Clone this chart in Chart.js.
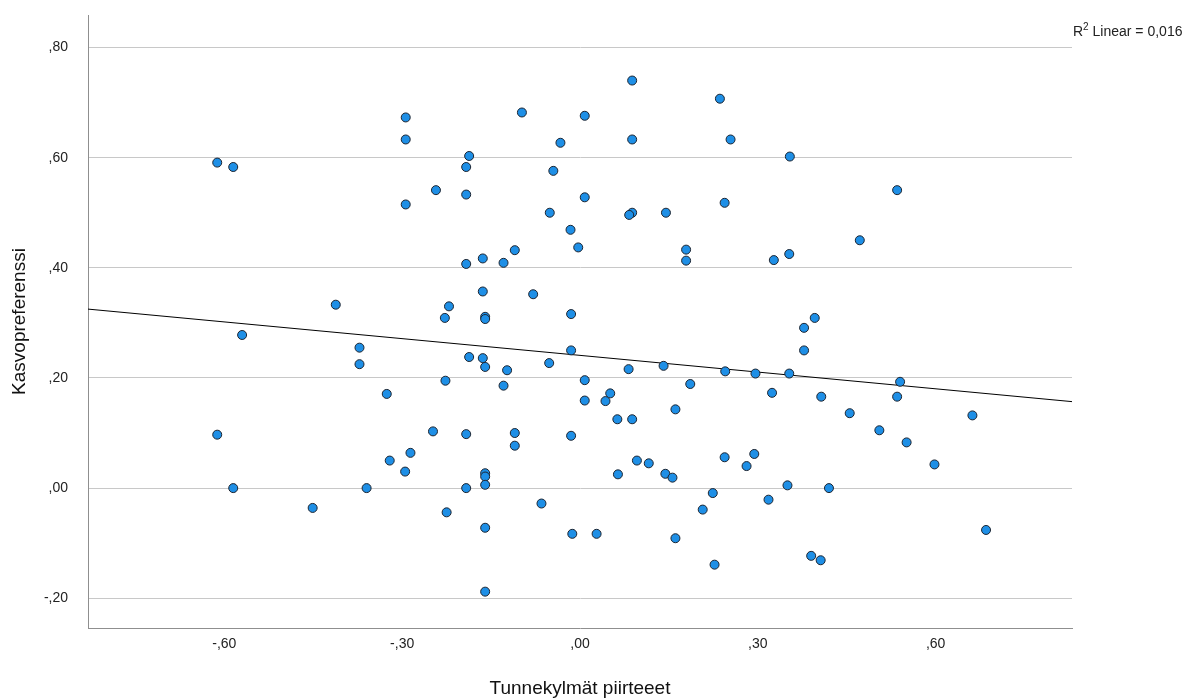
<!DOCTYPE html>
<html>
<head>
<meta charset="utf-8">
<script src="https://cdn.jsdelivr.net/npm/chart.js@4.4.1/dist/chart.umd.min.js"></script>
<style>
  html, body { margin: 0; padding: 0; background: #fff; }
  #wrap { width: 1196px; height: 700px; }
</style>
</head>
<body>
<div id="wrap"><canvas id="scatter" width="1196" height="700"></canvas></div>
<script>
// Tunnekylmät piirteeet (x) ja Kasvopreferenssi (y), luettu kuvasta
const tunnekylmat = [
  -0.294, -0.294, -0.612, -0.585, -0.294, 0.088, 0.236, -0.098, 0.008, -0.033,
  0.088, 0.254, -0.187, -0.192, -0.045, -0.243, -0.192, 0.008, -0.051, 0.088,
  0.083, 0.145, 0.244, 0.354, 0.535, -0.016, -0.003, -0.110, -0.164, -0.192,
  -0.129, 0.179, 0.179, -0.164, -0.079, -0.221, -0.228, -0.160, -0.160, -0.015,
  -0.015, -0.187, -0.164, -0.160, -0.123, -0.052, 0.082, 0.141, 0.245, -0.227,
  0.008, -0.129, 0.186, 0.051, 0.008, 0.043, 0.161, 0.063, 0.088, -0.412,
  -0.570, -0.372, -0.372, -0.326, 0.472, 0.327, 0.353, 0.396, 0.378, 0.378,
  0.296, 0.353, 0.540, 0.324, 0.407, 0.535, 0.455, 0.662, -0.612, -0.585,
  -0.451, -0.360, -0.321, -0.295, -0.286, -0.248, -0.192, -0.110, -0.110, -0.015,
  0.096, 0.116, 0.064, 0.144, 0.156, 0.244, -0.160, -0.160, -0.160, -0.192,
  0.224, 0.207, -0.225, -0.065, -0.160, -0.013, 0.028, 0.161, 0.227, -0.160,
  0.505, 0.551, 0.598, 0.294, 0.281, 0.350, 0.420, 0.318, 0.685, 0.390,
  0.406
];
const kasvopref = [
  0.673, 0.633, 0.591, 0.583, 0.515, 0.740, 0.707, 0.682, 0.676, 0.627,
  0.633, 0.633, 0.603, 0.583, 0.576, 0.541, 0.533, 0.528, 0.500, 0.500,
  0.496, 0.500, 0.518, 0.602, 0.541, 0.469, 0.437, 0.432, 0.417, 0.407,
  0.409, 0.433, 0.413, 0.357, 0.352, 0.330, 0.309, 0.311, 0.307, 0.316,
  0.250, 0.238, 0.236, 0.220, 0.214, 0.227, 0.216, 0.222, 0.212, 0.195,
  0.196, 0.186, 0.189, 0.172, 0.159, 0.158, 0.143, 0.125, 0.125, 0.333,
  0.278, 0.255, 0.225, 0.171, 0.450, 0.414, 0.425, 0.309, 0.291, 0.250,
  0.208, 0.208, 0.193, 0.173, 0.166, 0.166, 0.136, 0.132, 0.097, 0.000,
  -0.036, 0.000, 0.050, 0.030, 0.064, 0.103, 0.098, 0.100, 0.077, 0.095,
  0.050, 0.045, 0.025, 0.026, 0.019, 0.056, 0.027, 0.021, 0.006, 0.000,
  -0.009, -0.039, -0.044, -0.028, -0.072, -0.083, -0.083, -0.091, -0.139, -0.188,
  0.105, 0.083, 0.043, 0.062, 0.040, 0.005, 0.000, -0.021, -0.076, -0.123,
  -0.131
];

// sovitesuoran päätepisteet
const fitX = [-0.83, 0.83];
const fitY = [0.325, 0.157];
const r2Text = 'Linear = 0,016';

const xTicks = [-0.6, -0.3, 0, 0.3, 0.6];
const xTickLabels = ['-,60', '-,30', ',00', ',30', ',60'];
const yTicks = [-0.2, 0, 0.2, 0.4, 0.6, 0.8];
const yTickLabels = ['-,20', ',00', ',20', ',40', ',60', ',80'];

const FONT = '"Liberation Sans", Arial, sans-serif';

const r2Label = {
  id: 'r2Label',
  afterDraw(chart) {
    const { ctx, chartArea } = chart;
    ctx.save();
    ctx.fillStyle = '#222';
    ctx.textBaseline = 'alphabetic';
    const y = 36;
    let x = chartArea.right + 1;
    ctx.font = '14px ' + FONT;
    ctx.fillText('R', x, y);
    x += ctx.measureText('R').width;
    ctx.font = '10px ' + FONT;
    ctx.fillText('2', x, y - 6);
    x += ctx.measureText('2').width;
    ctx.font = '14px ' + FONT;
    ctx.fillText(' ' + r2Text, x, y);
    ctx.restore();
  }
};

const points = tunnekylmat.map((x, i) => ({ x, y: kasvopref[i] }));
const fitLine = fitX.map((x, i) => ({ x, y: fitY[i] }));

new Chart(document.getElementById('scatter'), {
  type: 'scatter',
  data: {
    datasets: [
      {
        data: points,
        pointRadius: 4.5,
        pointBackgroundColor: '#1e8fe6',
        pointBorderColor: '#1c2430',
        pointBorderWidth: 1
      },
      {
        type: 'line',
        data: fitLine,
        borderColor: '#000',
        borderWidth: 1,
        pointRadius: 0,
        fill: false
      }
    ]
  },
  options: {
    responsive: false,
    animation: false,
    layout: { padding: { top: 15, right: 124, left: 0, bottom: 0 } },
    plugins: { legend: { display: false }, tooltip: { enabled: false } },
    scales: {
      x: {
        type: 'linear',
        min: -0.83,
        max: 0.83,
        afterBuildTicks: (s) => { s.ticks = xTicks.map((v) => ({ value: v })); },
        afterFit: (s) => { s.height = 72; s.paddingLeft = 0; s.paddingRight = 0; },
        grid: { display: false, drawTicks: false },
        border: { display: true, color: '#8f8f8f', width: 1 },
        ticks: {
          padding: 8,
          color: '#222',
          font: { family: FONT, size: 14 },
          callback: (v) => xTickLabels[xTicks.indexOf(v)]
        },
        title: {
          display: true,
          text: 'Tunnekylmät piirteeet',
          color: '#111',
          font: { family: FONT, size: 19 },
          padding: { top: 0, bottom: 0 }
        }
      },
      y: {
        min: -0.254,
        max: 0.859,
        afterBuildTicks: (s) => { s.ticks = yTicks.map((v) => ({ value: v })); },
        afterFit: (s) => { s.width = 88; s.paddingTop = 0; s.paddingBottom = 0; },
        grid: { color: '#c8c8c8', lineWidth: 1, drawTicks: false },
        border: { display: true, color: '#8f8f8f', width: 1 },
        ticks: {
          padding: 20,
          color: '#222',
          font: { family: FONT, size: 14 },
          callback: (v) => yTickLabels[yTicks.indexOf(v)]
        },
        title: {
          display: true,
          text: 'Kasvopreferenssi',
          color: '#111',
          font: { family: FONT, size: 19 },
          padding: { top: 8, bottom: 0 }
        }
      }
    }
  },
  plugins: [r2Label]
});
</script>
</body>
</html>
